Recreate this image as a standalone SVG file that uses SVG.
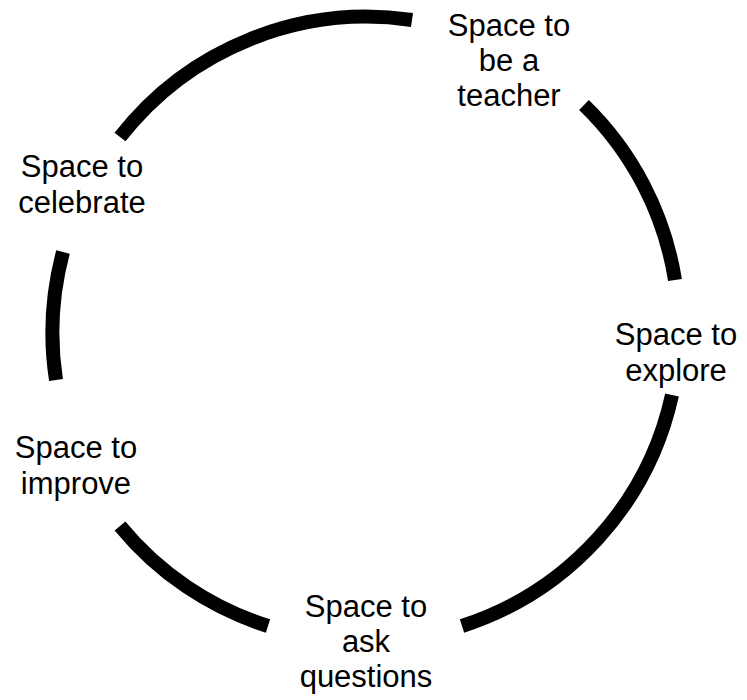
<svg xmlns="http://www.w3.org/2000/svg" width="747" height="700" viewBox="0 0 747 700">
<style>
.arc{fill:none;stroke:#000;stroke-width:14;stroke-linecap:butt}
.lbl{font-family:"Liberation Sans",Arial,sans-serif;font-size:31px;fill:#000;text-anchor:middle}
</style>
<rect width="747" height="700" fill="#fff"/>
<g id="connectors">
<path class="arc" d="M120,137 A313,313 0 0 1 412,20"/>
<path class="arc" d="M584,105 A313,313 0 0 1 675,280"/>
<path class="arc" d="M672,395 A313,313 0 0 1 462,626"/>
<path class="arc" d="M268,626 A313,313 0 0 1 120,526"/>
<path class="arc" d="M56,380 A313,313 0 0 1 63,252"/>
</g>
<g id="teacher"><text class="lbl" x="509" y="36">Space to</text><text class="lbl" x="509" y="71">be a</text><text class="lbl" x="509" y="106">teacher</text></g>
<g id="explore"><text class="lbl" x="676" y="345">Space to</text><text class="lbl" x="676" y="381">explore</text></g>
<g id="ask"><text class="lbl" x="366" y="617">Space to</text><text class="lbl" x="366" y="652">ask</text><text class="lbl" x="366" y="687">questions</text></g>
<g id="improve"><text class="lbl" x="76" y="458">Space to</text><text class="lbl" x="76" y="494">improve</text></g>
<g id="celebrate"><text class="lbl" x="82" y="177">Space to</text><text class="lbl" x="82" y="213">celebrate</text></g>
</svg>
